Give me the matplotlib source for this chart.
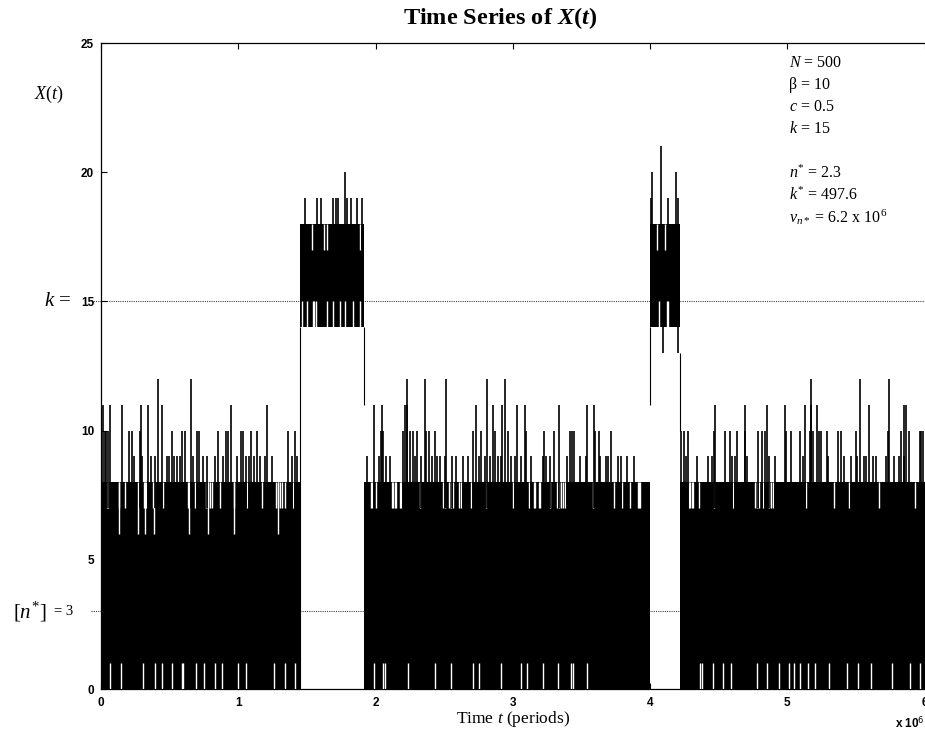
import matplotlib
matplotlib.use('Agg')
import matplotlib.pyplot as plt

plt.rcParams['mathtext.fontset'] = 'custom'
plt.rcParams['mathtext.rm'] = 'Liberation Serif'
plt.rcParams['mathtext.it'] = 'Liberation Serif:italic'
plt.rcParams['mathtext.bf'] = 'Liberation Serif:bold'
plt.rcParams['mathtext.bfit'] = 'Liberation Serif:bold:italic'

# time is in units of 1e6 periods
low_segments = [(0.0, 1.449), (1.915, 4.003), (4.216, 6.0)]
high_segments = [(1.449, 1.915), (4.003, 4.216)]

# low regime: X(t) mostly between 1 and 8
low_peak_12 = [0.417, 0.653, 2.231, 2.364, 2.517, 2.813, 2.947, 5.170, 5.527, 5.740]
low_peak_11 = [0.017, 0.066, 0.155, 0.289, 0.345, 0.442, 0.947, 1.206,
               1.990, 2.044, 2.214, 2.233, 2.735, 2.857,
               2.925, 3.032, 3.087, 3.337, 3.541, 3.590,
               4.476, 4.689, 4.854, 4.985, 5.131, 5.175, 5.216, 5.596, 5.850, 5.866]
low_peak_10 = [0.03, 0.04, 0.05, 0.204, 0.223, 0.284, 0.515, 0.587, 0.612, 0.697, 0.714,
               0.854, 0.910, 0.927, 1.017, 1.036, 1.090, 1.134, 1.359, 1.413,
               2.039, 2.056, 2.201, 2.250, 2.274, 2.299, 2.371, 2.388, 2.432, 2.711, 2.772, 2.874,
               2.966, 3.095, 3.228, 3.299, 3.420, 3.432, 3.444, 3.597, 3.629, 3.714,
               4.223, 4.245, 4.277, 4.466, 4.549, 4.580, 4.636, 4.694, 4.786, 4.816, 4.835,
               4.988, 5.029, 5.090, 5.163, 5.187, 5.228, 5.248, 5.291, 5.369, 5.393,
               5.502, 5.733, 5.830, 5.886, 5.964, 5.976, 5.988]
low_peak_9 = [0.243, 0.296, 0.364, 0.393, 0.478, 0.495, 0.532, 0.556, 0.575, 0.667,
              0.745, 0.774, 0.830, 0.886, 0.988, 1.056, 1.078, 1.114, 1.158, 1.194,
              1.248, 1.388, 1.425,
              1.939, 2.024, 2.073, 2.109, 2.286, 2.335, 2.413, 2.451, 2.471, 2.510,
              2.558, 2.583, 2.641, 2.675, 2.755, 2.796, 2.833, 2.893, 2.917,
              2.990, 3.015, 3.063, 3.136, 3.221, 3.245, 3.269, 3.398, 3.488, 3.532,
              3.633, 3.677, 3.694, 3.767, 3.791, 3.833, 3.881,
              4.265, 4.345, 4.422, 4.451, 4.597, 4.621, 4.709, 4.864, 4.908, 5.114,
              5.296, 5.417, 5.466, 5.510, 5.558, 5.575, 5.624, 5.648, 5.721, 5.777,
              5.811, 5.854]
# columns where X(t) never reaches 8
low_gap_8 = [0.041, 0.053, 0.133, 0.175, 0.316, 0.325, 0.376, 0.449, 0.636, 0.684,
             0.765, 0.779, 0.794, 0.806, 0.867, 0.968, 1.066, 1.175, 1.272, 1.286,
             1.301, 1.316, 1.342, 1.400,
             1.966, 1.976, 2.000, 2.121, 2.131, 2.141, 2.153, 2.177, 2.189, 2.325,
             2.495, 2.505, 2.534, 2.549, 2.563, 2.607, 2.621, 2.699, 2.808,
             3.002, 3.117, 3.153, 3.163, 3.192, 3.201, 3.274, 3.323, 3.337, 3.352,
             3.367, 3.381, 3.585, 3.735, 3.798, 3.852, 3.910, 3.920, 3.929,
             4.282, 4.294, 4.306, 4.316, 4.354, 4.464, 4.604, 4.767, 4.782, 4.796,
             4.820, 4.869, 4.883, 4.898, 5.138, 5.337, 5.447, 5.672, 5.932]
# columns where X(t) never reaches 7
low_gap_7 = [0.133, 0.272, 0.320, 0.386, 0.643, 0.782, 0.968, 1.291]
# columns where X(t) never drops to 0
low_gap_0 = [0.069, 0.146, 0.307, 0.391, 0.445, 0.518, 0.590, 0.598, 0.690, 0.748,
             0.828, 0.882, 0.997, 1.058, 1.257, 1.342, 1.411,
             1.986, 2.057, 2.067, 2.235, 2.434, 2.549, 2.714, 2.752, 2.913, 3.059,
             3.105, 3.224, 3.327, 3.426, 3.436, 3.538,
             4.362, 4.381, 4.458, 4.534, 4.592, 4.783, 4.853, 4.937, 5.014, 5.051,
             5.090, 5.148, 5.205, 5.301, 5.436, 5.512, 5.608, 5.760, 5.894, 5.970]

# high regime: X(t) mostly between 14 and 18
high_peak_21 = [4.078]
high_peak_20 = [1.777, 4.017, 4.192]
high_peak_19 = [1.485, 1.575, 1.600, 1.692, 1.709, 1.728, 1.789, 1.825, 1.862, 1.905,
                4.005, 4.131, 4.204]
high_gap_18 = [1.534, 1.624, 1.648, 1.886, 4.051, 4.107]
high_gap_14 = [1.466, 1.498, 1.541, 1.553, 1.566, 1.650, 1.692, 1.740, 1.777, 1.837,
               1.886, 4.063, 4.124, 4.131]
high_dip_13 = [4.095, 4.204]

# switches between the two regimes
jump_t = [1.449, 1.915, 4.003, 4.216]
jump_lo = [0, 11, 11, 10]
jump_hi = [14, 14, 14, 13]

k_level = 15
n_star_level = 3

fig = plt.figure(figsize=(9.25, 7.38), dpi=100)
ax = fig.add_axes([101 / 925, 1 - 689 / 738, 823.5 / 925, 646 / 738])

lw = 1.2
for a, b in low_segments:
    ax.fill_between([a, b], 0, 8, color='k', lw=0, zorder=2)
for a, b in high_segments:
    ax.fill_between([a, b], 14, 18, color='k', lw=0, zorder=2)

ax.vlines(low_gap_8, 7, 8, color='w', lw=1.0, zorder=3)
ax.vlines(low_gap_7, 6, 8, color='w', lw=1.0, zorder=3)
ax.vlines(low_gap_0, 0, 1, color='w', lw=1.0, zorder=3)
ax.vlines(high_gap_18, 17, 18, color='w', lw=1.0, zorder=3)
ax.vlines(high_gap_14, 14, 15, color='w', lw=1.0, zorder=3)

for level, ts in [(9, low_peak_9), (10, low_peak_10), (11, low_peak_11), (12, low_peak_12)]:
    ax.vlines(ts, 7, level, color='k', lw=lw, zorder=4)
for level, ts in [(19, high_peak_19), (20, high_peak_20), (21, high_peak_21)]:
    ax.vlines(ts, 17, level, color='k', lw=lw, zorder=4)
ax.vlines(high_dip_13, 13, 15, color='k', lw=lw, zorder=4)
ax.vlines(jump_t, jump_lo, jump_hi, color='k', lw=0.8, zorder=4)

# reference levels
for lev in (k_level, n_star_level):
    ax.plot([-0.012, 1], [lev, lev], transform=ax.get_yaxis_transform(), clip_on=False,
            color='#444444', lw=0.8, ls=(0, (1, 1)), zorder=1)

ax.set_xlim(0, 6)
ax.set_ylim(0, 25)
ax.set_xticks(range(7))
ax.set_yticks(range(0, 26, 5))
ax.tick_params(direction='in', top=True, right=False, length=4, width=0.8,
               labelsize=8.5)
ax.tick_params(axis='x', pad=6)
ax.tick_params(axis='y', pad=5)
for lab in ax.get_xticklabels() + ax.get_yticklabels():
    lab.set_family('Liberation Sans')
    lab.set_fontweight('bold')
ax.spines['right'].set_visible(False)
for s in ('left', 'top', 'bottom'):
    ax.spines[s].set_linewidth(0.9)

serif = 'Liberation Serif'
fig.text(0.541, 0.976, r'Time Series of $\mathbfit{X}\mathbf{(}\mathbfit{t}\mathbf{)}$',
         ha='center', va='center', fontsize=17.5, fontweight='bold', family=serif)
ax.set_xlabel(r'Time $t$ (periods)', family=serif, fontsize=12.5, labelpad=0)
ax.text(1.0, -0.052, r'x 10$^{\mathsf{6}}$', transform=ax.transAxes, ha='right', va='center',
        fontsize=8.5, fontweight='bold', family='Liberation Sans')

ax.text(-0.063, 0.92, r'$X$($t$)', transform=ax.transAxes, ha='center', va='center',
        family=serif, fontsize=13)
ax.text(-0.036, k_level, r'$k$ =', transform=ax.get_yaxis_transform(), ha='right',
        va='center', family=serif, fontsize=15)
ax.text(-0.066, n_star_level, r'[$n^{*}$]', transform=ax.get_yaxis_transform(), ha='right',
        va='center', family=serif, fontsize=15)
ax.text(-0.034, n_star_level, '= 3', transform=ax.get_yaxis_transform(), ha='right',
        va='center', family=serif, fontsize=10.5)

params = [r'$N$ = 500', 'β = 10', r'$c$ = 0.5', r'$k$ = 15', '',
          r'$n^{*}$ = 2.3', r'$k^{*}$ = 497.6', r'$v_{n*}$ = 6.2 x 10$^6$']
for i, s in enumerate(params):
    fig.text(789 / 925, 1 - (63 + 22 * i) / 738, s, ha='left', va='center',
             family=serif, fontsize=11.5)

fig.savefig('out.png', dpi=100)
